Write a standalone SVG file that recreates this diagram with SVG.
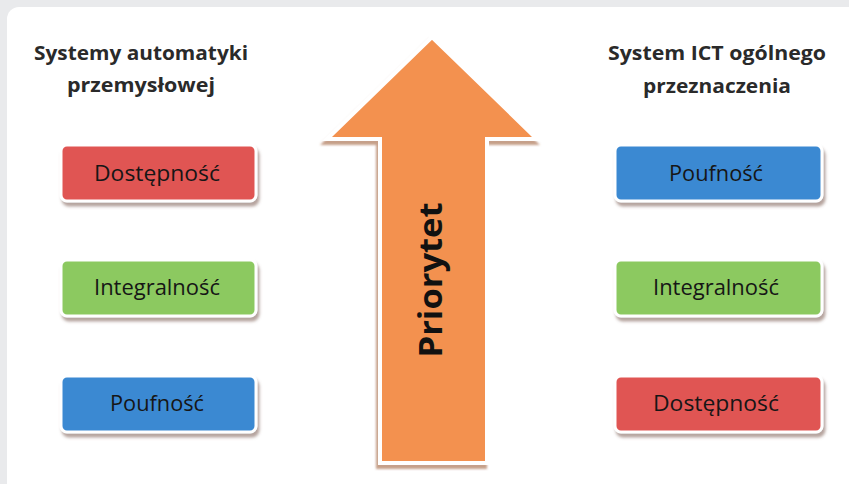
<svg xmlns="http://www.w3.org/2000/svg" width="849" height="484" viewBox="0 0 849 484">
<defs>
<style>
.title{font-family:"Open Sans","Liberation Sans",sans-serif;font-weight:bold;font-size:20px;fill:#2a2a2a;text-anchor:middle}
.lbl{font-family:"Open Sans","Liberation Sans",sans-serif;font-size:22px;fill:#161616;text-anchor:middle}
.box{stroke:#ffffff;stroke-width:3}
.red{fill:#e05552}
.green{fill:#8cc960}
.blue{fill:#3a89d2}
</style>
<filter id="sh" x="-10%" y="-20%" width="125%" height="150%">
<feDropShadow dx="2" dy="4" stdDeviation="1.5" flood-color="#7a5a50" flood-opacity="0.55"/>
</filter>
<filter id="sha" x="-20%" y="-10%" width="140%" height="125%">
<feDropShadow dx="-2" dy="4" stdDeviation="1.2" flood-color="#a0603a" flood-opacity="0.6"/>
</filter>
</defs>
<rect x="0" y="0" width="849" height="484" fill="#e9eaec"/>
<rect x="7" y="7" width="860" height="500" rx="12" fill="#ffffff"/>

<g id="title-left">
<text class="title" x="141" y="60" textLength="214" lengthAdjust="spacingAndGlyphs">Systemy automatyki</text>
<text class="title" x="141" y="92" textLength="148" lengthAdjust="spacingAndGlyphs">przemysłowej</text>
</g>
<g id="title-right">
<text class="title" x="717" y="60" textLength="218" lengthAdjust="spacingAndGlyphs">System ICT ogólnego</text>
<text class="title" x="717" y="93" textLength="148" lengthAdjust="spacingAndGlyphs">przeznaczenia</text>
</g>

<g id="arrow">
<polygon points="432,37 537,139 487,139 487,463 380,463 380,139 327,139" fill="#f3914f" stroke="#ffffff" stroke-width="4" stroke-linejoin="miter" filter="url(#sha)"/>
<text x="442" y="280" transform="rotate(-90 442 280)" font-family="Open Sans, Liberation Sans, sans-serif" font-weight="bold" font-size="33" fill="#111" text-anchor="middle" textLength="155" lengthAdjust="spacingAndGlyphs">Priorytet</text>
</g>

<g id="left-dostepnosc">
<rect class="box red" x="61" y="145" width="195" height="56" rx="6" filter="url(#sh)"/>
<text class="lbl" x="157" y="181" textLength="126" lengthAdjust="spacingAndGlyphs">Dostępność</text>
</g>
<g id="left-integralnosc">
<rect class="box green" x="61" y="260" width="195" height="56" rx="6" filter="url(#sh)"/>
<text class="lbl" x="157" y="295" textLength="126" lengthAdjust="spacingAndGlyphs">Integralność</text>
</g>
<g id="left-poufnosc">
<rect class="box blue" x="61" y="376" width="195" height="56" rx="6" filter="url(#sh)"/>
<text class="lbl" x="157" y="411" textLength="94" lengthAdjust="spacingAndGlyphs">Poufność</text>
</g>

<g id="right-poufnosc">
<rect class="box blue" x="615" y="145" width="207" height="56" rx="6" filter="url(#sh)"/>
<text class="lbl" x="716" y="181" textLength="94" lengthAdjust="spacingAndGlyphs">Poufność</text>
</g>
<g id="right-integralnosc">
<rect class="box green" x="615" y="260" width="207" height="56" rx="6" filter="url(#sh)"/>
<text class="lbl" x="716" y="295" textLength="126" lengthAdjust="spacingAndGlyphs">Integralność</text>
</g>
<g id="right-dostepnosc">
<rect class="box red" x="615" y="376" width="207" height="56" rx="6" filter="url(#sh)"/>
<text class="lbl" x="716" y="411" textLength="126" lengthAdjust="spacingAndGlyphs">Dostępność</text>
</g>
<g id="connectors"/>
</svg>
